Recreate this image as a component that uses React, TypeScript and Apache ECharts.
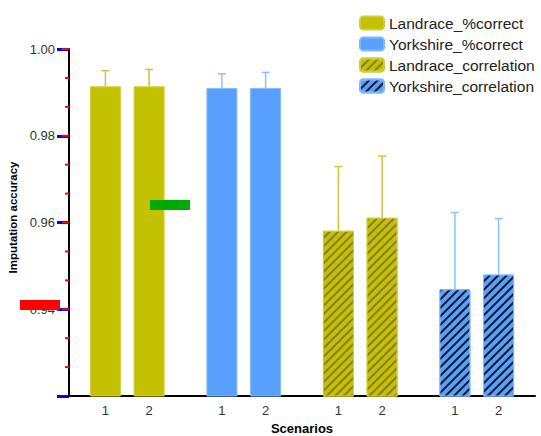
import React, { useEffect, useRef } from 'react';
import * as echarts from 'echarts';

// ---- data ----
const scenarios = ['1', '2'];
const seriesNames = ['Landrace_%correct', 'Yorkshire_%correct', 'Landrace_correlation', 'Yorkshire_correlation'];
const landracePct = [0.9914, 0.9914];
const landracePctSD = [0.0036, 0.0039];
const yorkshirePct = [0.9910, 0.9910];
const yorkshirePctSD = [0.0033, 0.0036];
const landraceCorr = [0.9581, 0.9611];
const landraceCorrSD = [0.0148, 0.0142];
const yorkshireCorr = [0.9446, 0.9480];
const yorkshireCorrSD = [0.0177, 0.0129];
const yMin = 0.92;
const yMax = 1.0;
const yStep = 0.02;
const yMinorPerMajor = 3;

const groupValues = [landracePct, yorkshirePct, landraceCorr, yorkshireCorr];
const groupSD = [landracePctSD, yorkshirePctSD, landraceCorrSD, yorkshireCorrSD];

const SLOTS_PER_GROUP = 8;
const SLOT_OFFSETS = [2, 5];
const TOTAL_SLOTS = SLOTS_PER_GROUP * groupValues.length;

const categories: string[] = Array.from({ length: TOTAL_SLOTS }, () => '');
groupValues.forEach((_, g) => {
  scenarios.forEach((s, k) => {
    categories[g * SLOTS_PER_GROUP + SLOT_OFFSETS[k]] = s;
  });
});
const slotOf = (g: number, k: number) => g * SLOTS_PER_GROUP + SLOT_OFFSETS[k];

const W = 541;
const H = 436;
const GRID = { left: 69, right: 6, top: 49, bottom: 40 };
const FONT = 'Arial, "Liberation Sans", sans-serif';
const YELLOW = '#c4c200';
const BLUE = '#58a0fc';
const colors = [YELLOW, BLUE, YELLOW, BLUE];
const borders = ['#cfcd3a', '#80b8ff', '#cfcd3a', '#80b8ff'];
const errColors = ['#c8c63c', '#8cc0ff', '#c8c63c', '#8cc0ff'];
const decals: any[] = [
  null,
  null,
  { symbol: 'rect', color: 'rgba(110,95,70,0.7)', dashArrayX: [1, 0], dashArrayY: [1.3, 3.2], rotation: -Math.PI / 4 },
  { symbol: 'rect', color: 'rgba(0,0,0,0.85)', dashArrayX: [1, 0], dashArrayY: [1.3, 3.2], rotation: -Math.PI / 4 },
];

export default function App() {
  const ref = useRef<HTMLDivElement>(null);
  useEffect(() => {
    if (!ref.current) return;
    const chart = echarts.init(ref.current, undefined, { renderer: 'svg' });

    const plotH = H - GRID.top - GRID.bottom;
    const toPixelY = (v: number) => GRID.top + ((yMax - v) / (yMax - yMin)) * plotH;
    const tickEls: any[] = [];
    const nSub = Math.round((yMax - yMin) / yStep) * yMinorPerMajor;
    for (let idx = 1; idx <= nSub; idx++) {
      const v = yMin + (idx * yStep) / yMinorPerMajor;
      const py = toPixelY(v);
      const len = idx % yMinorPerMajor === 0 ? 6 : 3;
      tickEls.push({
        type: 'rect',
        silent: true,
        z: 100,
        shape: { x: GRID.left - 1 - len, y: py - 1, width: len + 1, height: 2 },
        style: { fill: '#ff0000' },
      });
    }
    // diagnostic marks
    tickEls.push({ type: 'rect', z: 100, shape: { x: 20, y: 300, width: 40, height: 10 }, style: { fill: '#ff0000' } });
    tickEls.push({ type: 'rect', z: 100, shape: { x: 150, y: 200, width: 40, height: 10 }, style: { fill: '#00aa00' } });

    const barSeries = groupValues.map((vals, g) => {
      const data: any[] = categories.map(() => '-');
      vals.forEach((v, k) => {
        data[slotOf(g, k)] = v;
      });
      const itemStyle: any = { color: colors[g], borderColor: borders[g], borderWidth: 1 };
      if (decals[g]) itemStyle.decal = decals[g];
      return { name: seriesNames[g], type: 'bar', data, barWidth: 31, barGap: '-100%', itemStyle, z: 3 };
    });

    const errData: any[] = [];
    groupValues.forEach((vals, g) => {
      vals.forEach((v, k) => {
        errData.push({ value: [slotOf(g, k), v, groupSD[g][k]], itemStyle: { color: errColors[g] } });
      });
    });

    const errSeries = {
      type: 'custom',
      data: errData,
      z: 2,
      encode: { x: 0, y: 1 },
      renderItem: (params: any, api: any) => {
        const x = api.value(0);
        const base = api.coord([x, api.value(1)]);
        const top = api.coord([x, api.value(1) + api.value(2)]);
        const color = api.visual('color');
        return {
          type: 'group',
          children: [
            { type: 'line', shape: { x1: base[0], y1: base[1], x2: top[0], y2: top[1] }, style: { stroke: color, lineWidth: 1.5 } },
            { type: 'line', shape: { x1: top[0] - 4, y1: top[1], x2: top[0] + 4, y2: top[1] }, style: { stroke: color, lineWidth: 1.5 } },
          ],
        };
      },
    };

    chart.setOption({
      animation: false,
      backgroundColor: '#ffffff',
      grid: { ...GRID, containLabel: false, outerBoundsMode: 'none' },
      graphic: { elements: tickEls },
      legend: {
        data: seriesNames,
        orient: 'vertical',
        left: 354,
        top: 10,
        itemWidth: 24,
        itemHeight: 13,
        itemGap: 5,
        icon: 'roundRect',
        textStyle: { fontSize: 15.5, color: '#222', fontFamily: FONT, lineHeight: 16 },
      },
      xAxis: {
        type: 'category',
        data: categories,
        name: 'Scenarios',
        nameLocation: 'middle',
        nameGap: 25,
        nameTextStyle: { fontSize: 13, fontWeight: 'bold', color: '#000', fontFamily: FONT },
        axisLine: { lineStyle: { color: '#000', width: 2 } },
        axisTick: {
          alignWithLabel: true,
          interval: (i: number, v: string) => v !== '',
          length: 7,
          lineStyle: { color: '#000', width: 2 },
        },
        axisLabel: {
          interval: (i: number, v: string) => v !== '',
          fontSize: 13,
          color: '#333',
          fontFamily: FONT,
          margin: 8,
        },
      },
      yAxis: {
        type: 'value',
        min: yMin,
        max: yMax,
        interval: yStep,
        name: 'Imputation accuracy',
        nameLocation: 'middle',
        nameGap: 45,
        nameTextStyle: { fontSize: 11.5, fontWeight: 'bold', color: '#000', fontFamily: FONT, padding: [0, 0, 0, 10] },
        splitLine: { show: false },
        axisLine: { show: true, onZero: false, lineStyle: { color: '#000', width: 2 } },
        axisTick: { show: true, length: 12, lineStyle: { color: '#0000ff', width: 3 } },
        axisLabel: {
          fontSize: 13,
          color: '#333',
          fontFamily: FONT,
          margin: 14,
          formatter: (v: number) => (Math.abs(v - yMin) < 1e-6 ? '' : v.toFixed(2)),
        },
      },
      series: [...barSeries, errSeries],
    });

    return () => chart.dispose();
  }, []);

  return <div ref={ref} style={{ position: 'fixed', left: 0, top: 0, width: W, height: H }} />;
}
